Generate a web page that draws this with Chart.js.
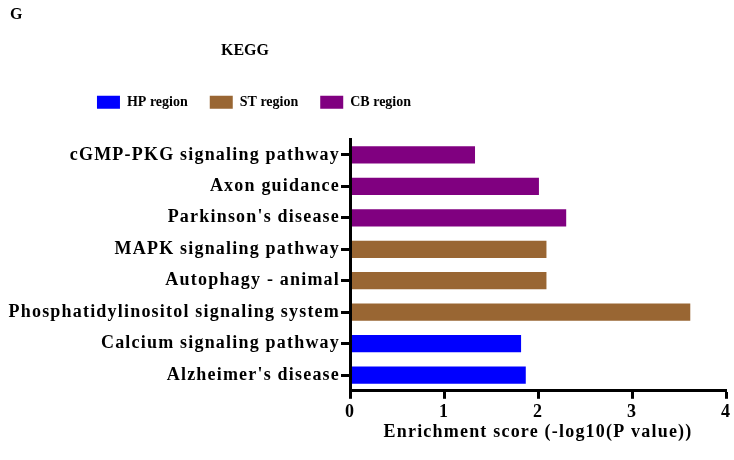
<!DOCTYPE html>
<html>
<head>
<meta charset="utf-8">
<script src="https://cdn.jsdelivr.net/npm/chart.js@4.4.1/dist/chart.umd.min.js"></script>
<style>
  html, body { margin: 0; padding: 0; background: #fff; }
  #wrap { width: 734px; height: 460px; }
</style>
</head>
<body>
<div id="wrap"><canvas id="keggChart"></canvas></div>
<script>
// pathways, top to bottom
const pathways = [
    "cGMP-PKG signaling pathway",
    "Axon guidance",
    "Parkinson's disease",
    "MAPK signaling pathway",
    "Autophagy - animal",
    "Phosphatidylinositol signaling system",
    "Calcium signaling pathway",
    "Alzheimer's disease"
];
const scores = [1.33, 2.01, 2.30, 2.09, 2.09, 3.62, 1.82, 1.87];
const pathwayRegion = ["CB", "CB", "CB", "ST", "ST", "ST", "HP", "HP"];

const regions = ["HP", "ST", "CB"];
const regionColors = {HP: "#0000ff", ST: "#996633", CB: "#800080"};
const xTicks = [0, 1, 2, 3, 4];

const FONT = "'Liberation Serif', 'Times New Roman', serif";

// panel letter, title/legend placement, wide lettering on the axes
const panelPlugin = {
    id: 'panelPlugin',
    afterLayout(chart) {
        chart.titleBlock.left = 0;
        chart.titleBlock.right = 490;
        chart.legend.left = 0;
        chart.legend.right = 508;
        chart.legend.top -= 20;
        chart.legend.bottom -= 20;
    },
    beforeDraw(chart) {
        chart.ctx.letterSpacing = '0px';
    },
    afterDatasetsDraw(chart) {
        // axis layers use z: 1, so they come after this
        chart.ctx.letterSpacing = '1.2px';
    },
    afterDraw(chart) {
        const ctx = chart.ctx;
        ctx.letterSpacing = '0px';
        ctx.save();
        ctx.font = "bold 16px " + FONT;
        ctx.fillStyle = "#000";
        ctx.textBaseline = "middle";
        ctx.fillText("G", 10, 15);
        ctx.restore();
    }
};

const ctx = document.getElementById('keggChart').getContext('2d');
new Chart(ctx, {
    type: 'bar',
    data: {
        labels: pathways,
        datasets: [{
            data: scores,
            backgroundColor: pathwayRegion.map(r => regionColors[r]),
            borderWidth: 0,
            categoryPercentage: 1,
            barPercentage: 0.55
        }]
    },
    options: {
        indexAxis: 'y',
        responsive: true,
        maintainAspectRatio: false,
        animation: false,
        layout: {padding: {left: 0, right: 8, top: 0, bottom: 12}},
        plugins: {
            title: {
                display: true,
                text: 'KEGG',
                color: '#000',
                font: {family: FONT, size: 16, weight: 'bold'},
                padding: {top: 41, bottom: 33}
            },
            legend: {
                display: true,
                labels: {
                    color: '#000',
                    font: {family: FONT, size: 14, weight: 'bold'},
                    boxWidth: 23,
                    boxHeight: 13,
                    padding: 22,
                    generateLabels: () => regions.map(r => ({
                        text: r + ' region',
                        fillStyle: regionColors[r],
                        strokeStyle: regionColors[r],
                        lineWidth: 0,
                        hidden: false
                    }))
                }
            },
            tooltip: {enabled: false}
        },
        scales: {
            x: {
                min: 0,
                max: 4,
                afterBuildTicks: axis => { axis.ticks = xTicks.map(v => ({value: v})); },
                border: {display: true, color: '#000', width: 3, z: 1},
                grid: {drawOnChartArea: false, drawTicks: true, tickLength: 8, tickWidth: 3, tickColor: '#000', z: 1},
                ticks: {color: '#000', font: {family: FONT, size: 18, weight: 'bold'}, padding: 3, z: 1},
                title: {
                    display: true,
                    text: 'Enrichment score (-log10(P value))',
                    color: '#000',
                    font: {family: FONT, size: 18, weight: 'bold'},
                    padding: {top: -5, bottom: 5}
                }
            },
            y: {
                afterFit: axis => { axis.width = 350; },
                border: {display: true, color: '#000', width: 3, z: 1},
                grid: {offset: false, drawOnChartArea: false, drawTicks: true, tickLength: 9, tickWidth: 3, tickColor: '#000', z: 1},
                ticks: {color: '#000', font: {family: FONT, size: 18, weight: 'bold'}, padding: 1, z: 1}
            }
        }
    },
    plugins: [panelPlugin]
});
</script>
</body>
</html>
